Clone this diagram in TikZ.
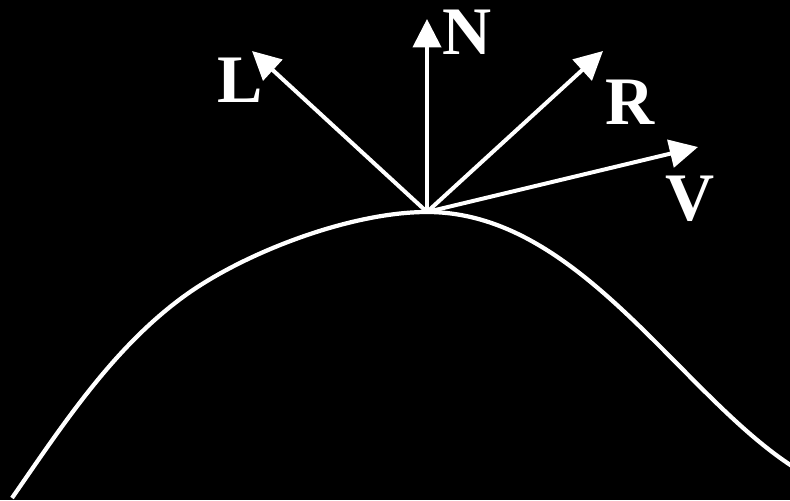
\documentclass[tikz,border=0pt]{standalone}
\usepackage{fontspec}
\setmainfont{Liberation Serif}
\usetikzlibrary{arrows.meta}
\begin{document}
\begin{tikzpicture}[x=0.03cm,y=-0.03cm,
  vec/.style={white,line width=3.4pt,-{Triangle[length=0.85cm,width=0.84cm]}},
  lbl/.style={text=white,font=\bfseries\fontsize{58}{58}\selectfont,inner sep=0pt},
  surf/.style={white,line width=3.6pt}]
\fill[black] (0,0) rectangle (790,500);
\useasboundingbox (0,0) rectangle (790,500);
\coordinate (S) at (12,498);
\coordinate (M) at (183,297);
\coordinate (O) at (427,212);
\coordinate (E) at (795,468);
\draw[surf] (S) .. controls (62,426) and (112,349) .. (M)
  .. controls (243,253) and (350,212) .. (O)
  .. controls (580,212) and (680,395) .. (E);
\coordinate (Lt) at (252,51);
\coordinate (Nt) at (427,19);
\coordinate (Rt) at (603,51);
\coordinate (Vt) at (698,147);
\draw[vec] (O) -- (Lt);
\draw[vec] (O) -- (Nt);
\draw[vec] (O) -- (Rt);
\draw[vec] (O) -- (Vt);
\node[lbl] (L) at (240,80) {L};
\node[lbl] (N) at (467,32) {N};
\node[lbl] (R) at (630,102) {R};
\node[lbl] (V) at (690,199) {V};
\end{tikzpicture}
\end{document}
